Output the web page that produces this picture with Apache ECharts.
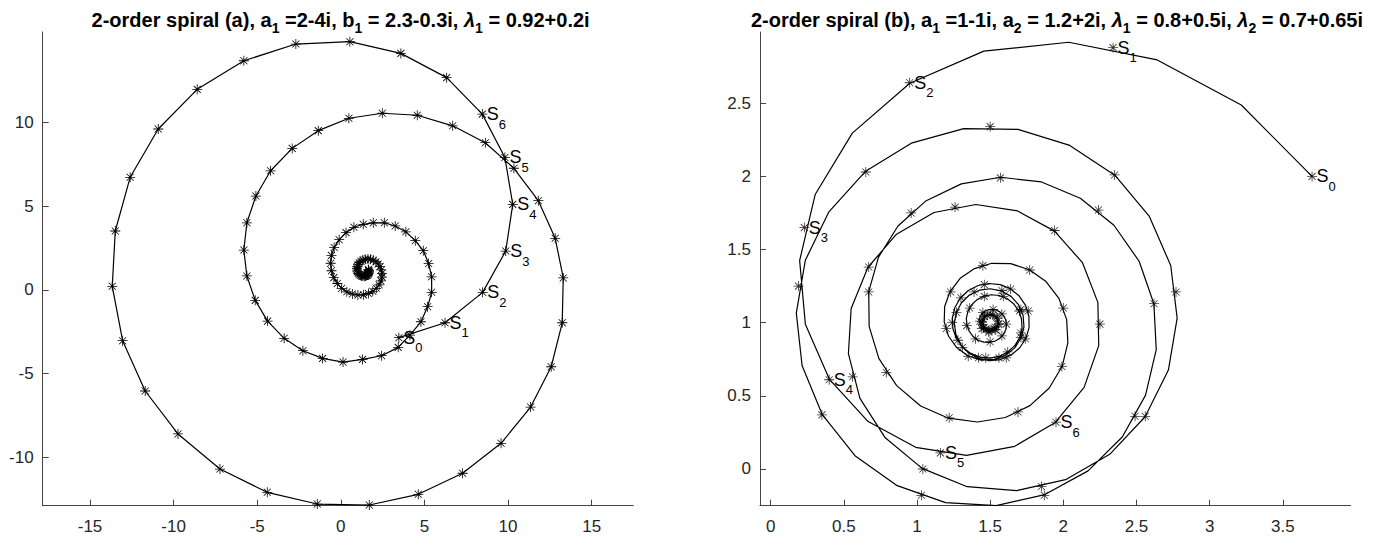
<!DOCTYPE html>
<html><head><meta charset="utf-8">
<script src="https://cdn.jsdelivr.net/npm/echarts@6/dist/echarts.min.js"></script>
<style>html,body{margin:0;padding:0;background:#fff}#c{width:1380px;height:547px}</style>
</head><body><div id="c"></div>
<script>
// ---- spiral (a): points S_n, n = 0,1,2,...; line runs through them
const spiralAX = [3.47,6.23,8.48,9.86,10.28,9.81,8.46,6.33,3.59,0.54,-2.69,-5.80,-8.59,-10.92,-12.60,-13.49,-13.67,-13.05,-11.70,-9.74,-7.23,-4.40,-1.41,1.70,4.63,7.28,9.58,11.35,12.58,13.24,13.30,12.82,11.81,10.35,8.64,6.69,4.57,2.48,0.48,-1.35,-2.91,-4.20,-5.08,-5.62,-5.80,-5.62,-5.12,-4.38,-3.39,-2.27,-1.09,0.13,1.30,2.44,3.43,4.13,4.79,5.19,5.43,5.43,5.25,4.93,4.45,3.89,3.25,2.60,1.94,1.34,0.78,0.31,-0.10,-0.40,-0.56,-0.61,-0.56,-0.42,-0.21,0.05,0.36,0.69,1.02,1.35,1.65,1.91,2.12,2.29,2.40,2.46,2.46,2.42,2.35,2.23,2.10,1.94,1.78,1.62,1.46,1.32,1.20,1.10,1.03,0.98,0.96,0.97,0.99,1.04,1.10,1.17,1.24,1.32,1.40,1.47,1.53,1.59,1.63,1.66,1.68,1.68,1.67,1.66,1.64];
const spiralAY = [-2.86,-1.97,-0.15,2.32,5.11,7.92,10.51,12.69,14.14,14.84,14.70,13.70,11.99,9.62,6.73,3.52,0.21,-3.04,-6.05,-8.62,-10.72,-12.11,-12.81,-12.87,-12.23,-10.97,-9.18,-7.01,-4.60,-1.97,0.71,3.08,5.33,7.27,8.80,9.81,10.44,10.56,10.26,9.52,8.46,7.12,5.61,4.01,2.38,0.83,-0.63,-1.87,-2.90,-3.64,-4.10,-4.32,-4.16,-3.94,-3.44,-2.71,-1.91,-1.01,-0.15,0.78,1.58,2.34,2.94,3.47,3.82,4.01,4.01,3.92,3.74,3.42,3.00,2.53,2.06,1.59,1.14,0.73,0.38,0.09,-0.12,-0.25,-0.31,-0.30,-0.22,-0.09,0.09,0.30,0.53,0.76,0.99,1.19,1.39,1.55,1.68,1.77,1.83,1.85,1.83,1.78,1.71,1.62,1.52,1.40,1.29,1.18,1.08,0.99,0.92,0.87,0.83,0.81,0.81,0.82,0.85,0.88,0.93,0.98,1.03,1.09,1.14,1.18,1.22];

// ---- spiral (b): marked points S_n (n = 0,1,2,...)
const spiralBX = [3.70,2.34,0.95,0.23,0.40,1.16,1.95,2.25,1.94,1.26,0.67,0.56,1.04,1.85,2.56,2.77,2.35,1.50,0.65,0.19,0.35,1.03,1.87,2.49,2.62,2.24,1.57,0.96,0.67,0.79,1.22,1.69,1.99,2.00,1.77,1.45,1.23,1.20,1.35,1.56,1.71,1.71,1.58,1.39,1.27,1.28,1.42,1.61,1.74,1.76,1.64,1.46,1.30,1.24,1.31,1.47,1.62,1.71,1.70,1.59,1.46,1.36,1.34,1.40,1.50,1.58,1.61,1.58,1.52,1.45,1.43,
  1.443,1.491,1.539,1.560,1.545,1.504,1.462,1.443,1.455,1.492,1.533,1.556,1.549,1.518,1.479,1.452,1.450,1.472,1.506,1.534];
const spiralBY = [2.00,2.88,2.64,1.65,0.61,0.11,0.32,0.99,1.63,1.79,1.38,0.63,0.00,-0.12,0.36,1.21,2.01,2.34,2.03,1.25,0.37,-0.18,-0.18,0.36,1.13,1.77,1.99,1.75,1.21,0.66,0.35,0.39,0.70,1.10,1.36,1.39,1.21,0.96,0.77,0.76,0.90,1.09,1.22,1.21,1.07,0.88,0.76,0.76,0.89,1.08,1.23,1.26,1.17,1.00,0.83,0.76,0.80,0.93,1.08,1.18,1.18,1.10,0.98,0.89,0.87,0.91,0.99,1.06,1.09,1.07,1.01,
  0.959,0.935,0.951,0.994,1.038,1.058,1.043,1.005,0.964,0.943,0.953,0.987,1.028,1.052,1.051,1.024,0.987,0.959,0.953,0.969];

// ---- spiral (b): vertices of the drawn curve (finer than the marks)
const curveBX = [
  3.700,3.216,2.642,2.037,1.457, 0.951,0.558,0.304,0.198,0.237, 0.402,0.666,0.991,1.338,1.668, 1.945,2.142,2.242,2.236,2.131,
  1.940,1.687,1.402,1.116,0.860, 0.665,0.550,0.531,0.610,0.783, 1.035,1.343,1.680,2.015,2.317, 2.559,2.718,2.778,2.734,2.588,
  2.352,2.044,1.690,1.319,0.961, 0.646,0.398,0.237,0.175,0.215, 0.353,0.576,0.865,1.195,1.541, 1.874,2.169,2.404,2.562,2.635,
  2.619,2.518,2.346,2.116,1.851, 1.572,1.303,1.063,0.870,0.737, 0.670,0.673,0.739,0.861,1.025, 1.215,1.413,1.604,1.772,1.904,
  1.992,2.031,2.023,1.971,1.882, 1.768,1.640,1.511,1.393,1.295, 1.226,1.189,1.186,1.215,1.271, 1.346,1.432,1.520,1.601,1.667,
  1.711,1.731,1.725,1.694,1.643, 1.576,1.501,1.426,1.358,1.304, 1.268,1.255,1.266,1.299,1.351, 1.418,1.493,1.570,1.642,1.701,
  1.744,1.766,1.765,1.742,1.699, 1.640,1.569,1.493,1.418,1.351, 1.296,1.259,1.242,1.245,1.269, 1.311,1.366,1.431,1.499,1.565,
  1.624,1.671,1.703,1.718,1.714, 1.695,1.660,1.615,1.562,1.508, 1.455,1.409,1.372,1.348,1.337, 1.341,1.357,1.383,1.418,1.457,
  1.497,1.535,1.567,1.592,1.607, 1.611,1.606,1.591,1.570,1.543, 1.515,1.487,1.463,1.443,1.430, 1.425,
  1.443,1.491,1.539,1.560,1.545,1.504,1.462,1.443,1.455,1.492,1.533,1.556,1.549,1.518,1.479,1.452,1.450,1.472,1.506,1.534];
const curveBY = [
  2.000,2.488,2.796,2.917,2.856, 2.637,2.296,1.876,1.425,0.990, 0.612,0.324,0.148,0.093,0.155, 0.318,0.558,0.843,1.139,1.410,
  1.626,1.764,1.808,1.753,1.605, 1.379,1.097,0.788,0.483,0.213, 0.004,-0.121,-0.148,-0.073,0.100, 0.357,0.676,1.031,1.391,1.726,
  2.008,2.212,2.321,2.326,2.227, 2.033,1.758,1.427,1.066,0.705, 0.371,0.091,-0.114,-0.230,-0.250, -0.175,-0.013,0.220,0.505,0.816,
  1.129,1.420,1.666,1.851,1.962, 1.994,1.949,1.834,1.661,1.448, 1.212,0.975,0.756,0.570,0.431, 0.347,0.321,0.352,0.433,0.554,
  0.702,0.862,1.021,1.164,1.281, 1.362,1.404,1.406,1.370,1.303, 1.213,1.111,1.006,0.909,0.830, 0.774,0.746,0.747,0.775,0.826,
  0.895,0.972,1.051,1.123,1.180, 1.217,1.232,1.222,1.189,1.136, 1.069,0.994,0.919,0.850,0.794, 0.757,0.741,0.748,0.778,0.827,
  0.892,0.966,1.044,1.118,1.182, 1.231,1.260,1.268,1.254,1.220, 1.169,1.104,1.033,0.960,0.892, 0.834,0.790,0.765,0.758,0.771,
  0.802,0.847,0.902,0.963,1.025, 1.082,1.130,1.165,1.186,1.191, 1.181,1.156,1.121,1.077,1.030, 0.984,0.941,0.906,0.880,0.867,
  0.865,0.875,0.894,0.922,0.954, 0.988,1.020,1.049,1.071,1.085, 1.091,1.088,1.077,1.059,1.037, 1.013,
  0.959,0.935,0.951,0.994,1.038,1.058,1.043,1.005,0.964,0.943,0.953,0.987,1.028,1.052,1.051,1.024,0.987,0.959,0.953,0.969];

const labelIdx = [0,1,2,3,4,5,6];
// ---- axes
const ticksAX = [-15,-10,-5,0,5,10,15];
const ticksAY = [-10,-5,0,5,10];
const ticksBX = [0,0.5,1,1.5,2,2.5,3,3.5];
const ticksBY = [0,0.5,1,1.5,2,2.5];
const titleA = '{b|2-order spiral (a), a}{s|1}{b| =2-4i, b}{s|1}{b| = 2.3-0.3i, }{l|λ}{s|1}{b| = 0.92+0.2i}';
const titleB = '{b|2-order spiral (b), a}{s|1}{b| =1-1i, a}{s|2}{b| = 1.2+2i, }{l|λ}{s|1}{b| = 0.8+0.5i, }{l|λ}{s|2}{b| = 0.7+0.65i}';

const FONT = 'Liberation Sans, Arial, Helvetica, sans-serif';
const STAR = 'path://M46 0L54 0L54 100L46 100Z M0 46L100 46L100 54L0 54Z M17.8 12.2L87.8 82.2L82.2 87.8L12.2 17.8Z M82.2 12.2L87.8 17.8L17.8 87.8L12.2 82.2Z';
const AX = '#444';

function pairs(xs, ys) { return xs.map((x, i) => [x, ys[i]]); }
function labelPts(xs, ys) { return labelIdx.map(i => [xs[i], ys[i], i]); }

function xAxis(grid, min, max, ticks) {
  return { gridIndex: grid, type: 'value', min: min, max: max,
    axisLine: { onZero: false, lineStyle: { color: AX, width: 1 } },
    axisTick: { inside: true, length: 6, customValues: ticks, lineStyle: { color: AX } },
    axisLabel: { customValues: ticks, fontSize: 17, color: '#262626', margin: 12, fontFamily: FONT },
    splitLine: { show: false } };
}
function yAxis(grid, min, max, ticks) {
  return { gridIndex: grid, type: 'value', min: min, max: max,
    axisLine: { onZero: false, lineStyle: { color: AX, width: 1 } },
    axisTick: { inside: true, length: 6, customValues: ticks, lineStyle: { color: AX } },
    axisLabel: { customValues: ticks, fontSize: 17, color: '#262626', margin: 9, fontFamily: FONT },
    splitLine: { show: false } };
}
function lineSeries(k, xs, ys, withMarks) {
  return { type: 'line', xAxisIndex: k, yAxisIndex: k, data: pairs(xs, ys),
    symbol: withMarks ? STAR : 'none', symbolSize: 10, showSymbol: withMarks,
    lineStyle: { color: '#000', width: 1.2 }, itemStyle: { color: '#000' },
    emphasis: { disabled: true }, animation: false, z: 2 };
}
function markSeries(k, xs, ys) {
  return { type: 'scatter', xAxisIndex: k, yAxisIndex: k, data: pairs(xs, ys),
    symbol: STAR, symbolSize: 10, itemStyle: { color: '#000' },
    emphasis: { disabled: true }, animation: false, z: 3 };
}
function labelSeries(k, xs, ys) {
  return { type: 'scatter', xAxisIndex: k, yAxisIndex: k, data: labelPts(xs, ys),
    symbol: 'circle', symbolSize: 1, itemStyle: { color: '#000', opacity: 0 },
    label: { show: true, position: 'right', distance: 4, color: '#000', opacity: 1,
      textBorderWidth: 0, textShadowBlur: 0,
      formatter: p => '{s|S}{n|' + p.value[2] + '}',
      rich: { s: { fontSize: 18, fontFamily: FONT, color: '#000', textBorderWidth: 0 },
              n: { fontSize: 13, fontFamily: FONT, color: '#000', textBorderWidth: 0, padding: [20, 0, 0, 0] } } },
    labelLayout: { hideOverlap: false },
    emphasis: { disabled: true }, animation: false, z: 4 };
}
const titleRich = {
  b: { fontSize: 20, fontWeight: 'bold', fontFamily: FONT, fill: '#000' },
  l: { fontSize: 20, fontWeight: 'bold', fontStyle: 'italic', fontFamily: FONT, fill: '#000' },
  s: { fontSize: 14, fontWeight: 'bold', fontFamily: FONT, fill: '#000', padding: [16, 0, 0, 0] }
};

const chart = echarts.init(document.getElementById('c'), null, { renderer: 'svg' });
chart.setOption({
  backgroundColor: '#fff',
  animation: false,
  grid: [
    { left: 42.7, top: 32, width: 590.6, height: 473.7 },
    { left: 760, top: 32, width: 590.7, height: 473.7 }
  ],
  xAxis: [xAxis(0, -17.83, 17.49, ticksAX), xAxis(1, -0.073, 3.964, ticksBX)],
  yAxis: [yAxis(0, -12.91, 15.42, ticksAY), yAxis(1, -0.251, 2.987, ticksBY)],
  graphic: [
    { type: 'text', x: 340.6, y: 20, style: { text: titleA, rich: titleRich, align: 'center', verticalAlign: 'middle', textAlign: 'center', textVerticalAlign: 'middle' } },
    { type: 'text', x: 1057, y: 20, style: { text: titleB, rich: titleRich, align: 'center', verticalAlign: 'middle', textAlign: 'center', textVerticalAlign: 'middle' } }
  ],
  series: [
    lineSeries(0, spiralAX, spiralAY, true),
    lineSeries(1, curveBX, curveBY, false),
    markSeries(1, spiralBX, spiralBY),
    labelSeries(0, spiralAX, spiralAY),
    labelSeries(1, spiralBX, spiralBY)
  ]
});
</script></body></html>
